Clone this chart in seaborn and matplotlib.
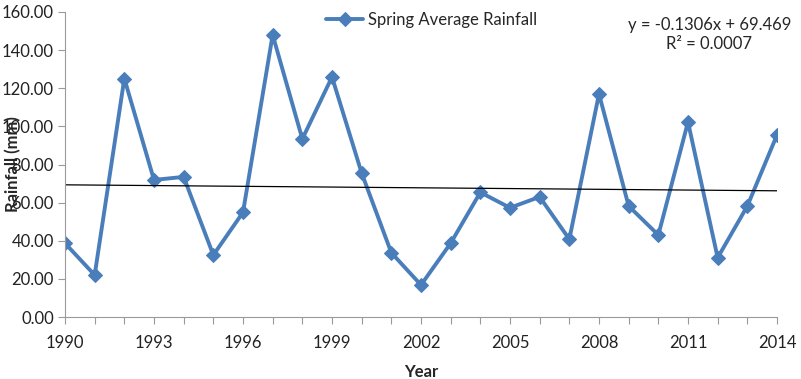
import matplotlib
matplotlib.use("Agg")
import matplotlib.pyplot as plt
import seaborn as sns
import pandas as pd
import numpy as np

years = list(range(1990, 2015))
rainfall = [38.7, 22.0, 125.1, 71.9, 73.5, 32.5, 54.9, 148.0, 93.4, 125.9,
            75.5, 33.7, 16.8, 38.7, 65.4, 57.3, 63.0, 40.8, 117.0, 58.2,
            43.0, 102.3, 31.1, 58.2, 95.5]
trend_slope = -0.1306
trend_intercept = 69.469
r_squared = 0.0007
series_name = "Spring Average Rainfall"

sns.set_theme(style="white")
plt.rcParams['font.family'] = ['Lato', 'DejaVu Sans']

df = pd.DataFrame({"Year": years, "Rainfall": rainfall})
idx = np.arange(1, len(years) + 1)
trend_df = pd.DataFrame({"Year": years, "Trend": trend_slope * idx + trend_intercept})

fig = plt.figure(figsize=(8.01, 3.79), dpi=100)
ax = fig.add_axes([65 / 801, 1 - 317 / 379, (777 - 65) / 801, (317 - 12) / 379])

sns.lineplot(data=df, x="Year", y="Rainfall", ax=ax, color="#4A7EBB", linewidth=2.8,
             marker="D", markersize=7.5, markeredgecolor="#4A7EBB", label=series_name)
sns.lineplot(data=trend_df, x="Year", y="Trend", ax=ax, color="black", linewidth=0.9,
             label="_nolegend_")

fs = 12
ax.set_xlim(1990, 2014)
ax.set_ylim(0, 160)
ax.set_yticks(np.arange(0, 161, 20))
ax.set_yticklabels([f"{v:.2f}" for v in np.arange(0, 161, 20)], fontsize=fs, color="#222222")
ax.set_xticks(years, minor=True)
ax.set_xticks(list(range(1990, 2015, 3)))
ax.set_xticklabels([str(y) for y in range(1990, 2015, 3)], fontsize=fs, color="#222222")
ax.tick_params(axis="both", which="both", direction="out", length=5, color="#9a9a9a", width=0.8,
               bottom=True, left=True)
ax.tick_params(axis="x", which="major", pad=8)
ax.tick_params(axis="y", which="major", pad=3)

for s in ["top", "right"]:
    ax.spines[s].set_visible(False)
for s in ["left", "bottom"]:
    ax.spines[s].set_color("#9a9a9a")
    ax.spines[s].set_linewidth(0.8)

ax.set_xlabel("Year", fontsize=fs, fontweight="bold", labelpad=9)
ax.set_ylabel("Rainfall (mm)", fontsize=fs, fontweight="bold")
ax.yaxis.set_label_coords(-0.062, 0.5)

leg = ax.legend(loc="upper center", bbox_to_anchor=(0.515, 1.05), frameon=False, fontsize=fs,
                handlelength=2.2, handletextpad=0.3)

ax.text(0.905, 0.985, f"y = {trend_slope}x + {trend_intercept}", transform=ax.transAxes,
        ha="center", va="top", fontsize=fs)
ax.text(0.905, 0.92, f"R² = {r_squared}", transform=ax.transAxes,
        ha="center", va="top", fontsize=fs)

fig.savefig("out.png", dpi=100)
